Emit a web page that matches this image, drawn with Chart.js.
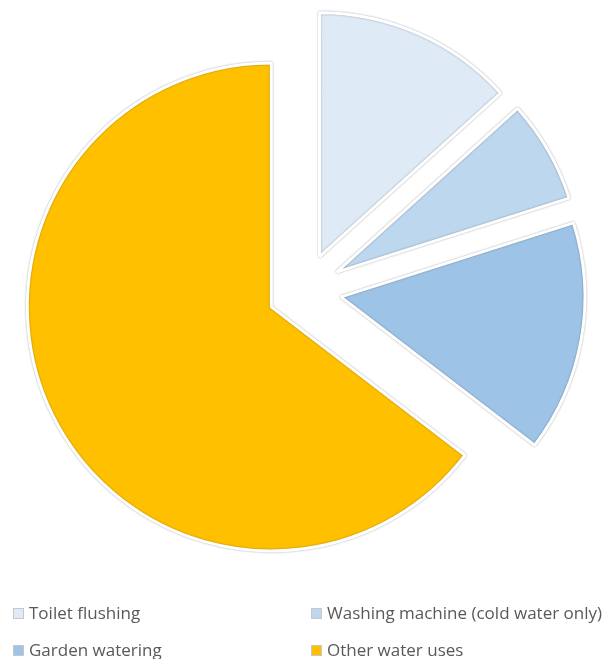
<!DOCTYPE html>
<html>
<head>
<meta charset="utf-8">
<script src="https://cdn.jsdelivr.net/npm/chart.js@4/dist/chart.umd.min.js"></script>
<style>
  html, body { margin: 0; padding: 0; background: #fff; }
  #wrap { position: relative; width: 606px; height: 659px; }
  #c { position: absolute; left: 0; top: 0; }
  .lg { position: absolute; font-family: "Open Sans", sans-serif; font-size: 17px; color: #595959; white-space: nowrap; line-height: 20px; }
  .lg i { display: inline-block; width: 9px; height: 9px; border: 1px solid #c8c8c8; margin-right: 5px; vertical-align: 0px; }
</style>
</head>
<body>
<div id="wrap">
  <canvas id="c" width="606" height="659"></canvas>
  <div id="legend"></div>
</div>
<script>
const categories = ["Toilet flushing", "Washing machine (cold water only)", "Garden watering", "Other water uses"];
const shares = [13.3, 6.8, 15.3, 64.6];
const colors = ["#DEEBF7", "#BDD7EE", "#9DC3E6", "#FFC000"];

const legendPos = [[13, 603], [311, 603], [13, 640], [311, 640]];
const lg = document.getElementById('legend');
categories.forEach((name, i) => {
  const d = document.createElement('div');
  d.className = 'lg';
  d.style.left = legendPos[i][0] + 'px';
  d.style.top = legendPos[i][1] + 'px';
  const box = document.createElement('i');
  box.style.background = colors[i];
  d.appendChild(box);
  d.appendChild(document.createTextNode(name));
  lg.appendChild(d);
});

const EXPLODE = 37;
const explodePlugin = {
  id: 'explode',
  beforeDatasetDraw(chart, args) {
    const ctx = chart.ctx;
    args.meta.data.forEach(arc => {
      const mid = (arc.startAngle + arc.endAngle) / 2;
      ctx.save();
      ctx.shadowColor = 'rgba(0,0,0,0.35)';
      ctx.shadowBlur = 2;
      ctx.translate(Math.cos(mid) * EXPLODE, Math.sin(mid) * EXPLODE);
      arc.draw(ctx, chart.chartArea);
      ctx.restore();
    });
    return false;
  }
};

new Chart(document.getElementById('c'), {
  type: 'pie',
  data: {
    labels: categories,
    datasets: [{
      data: shares,
      backgroundColor: colors,
      borderColor: '#ffffff',
      borderWidth: 3
    }]
  },
  options: {
    responsive: false,
    animation: false,
    layout: { padding: { left: 59, right: 56, top: 45, bottom: 123 } },
    plugins: { legend: { display: false }, tooltip: { enabled: false } }
  },
  plugins: [explodePlugin]
});
</script>
</body>
</html>
